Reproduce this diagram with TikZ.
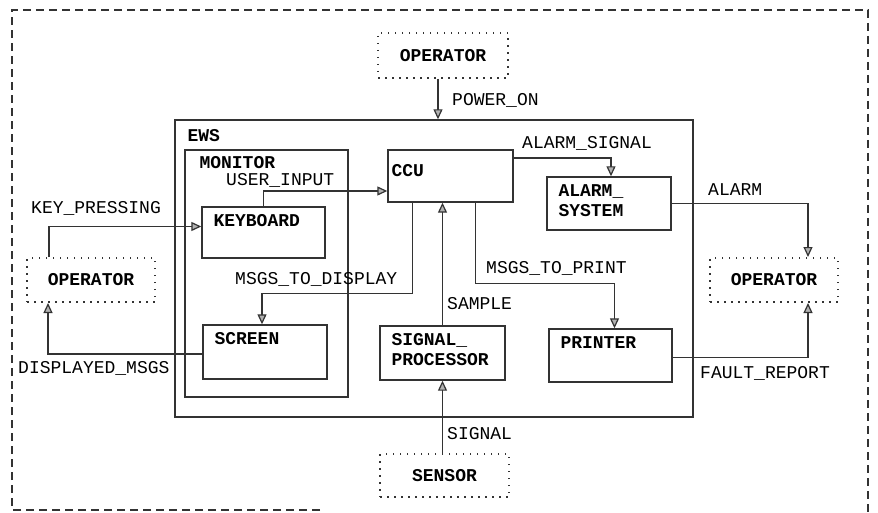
\documentclass[tikz,border=0pt]{standalone}
\usepackage{fontspec}
\setmonofont{Liberation Mono}
\usetikzlibrary{arrows.meta}
\newcommand{\boxfont}{\fontsize{18}{20}\selectfont\ttfamily\bfseries}
\newcommand{\flowfont}{\fontsize{18}{20}\selectfont\ttfamily}
\newcommand{\blk}[7][12,8]{% [label shift], x, y, width, height, name, label   (process box, label top left)
  \node[draw,line width=1.4pt,draw=black!80,minimum width=#4,minimum height=#5,inner sep=0] (#6) at (#2,#3) {};
  \node[font=\boxfont,anchor=north west,inner sep=0,align=left] at ([shift={(#1)}]#6.north west) {#7};}
\newcommand{\ext}[6]{% x, y, width, height, name, label   (external entity, dotted)
  \node[draw,line width=2pt,draw=black!80,dash pattern=on 1.5pt off 5.5pt,minimum width=#3,minimum height=#4,font=\boxfont] (#5) at (#1,#2) {#6};}

\begin{document}
\begin{tikzpicture}[x=1pt,y=-1pt,>={Triangle[length=10pt,width=9pt,fill=black!30]},
  flow/.style={->,line width=1.2pt,draw=black!80},
  flowlbl/.style={font=\flowfont,anchor=west,inner sep=0}]
  \useasboundingbox (0,0) rectangle (878,513);
  % environment boundary
  \draw[line width=1.4pt,draw=black!80,dash pattern=on 8pt off 5pt]
    (320,510) -- (12,510) -- (12,10) -- (868,10) -- (868,513);
  % system and its parts
  \blk[13,10]{434}{268.5}{518}{297}{ews}{EWS}
  \blk[15,7]{266.5}{273.5}{163}{247}{mon}{MONITOR}
  \blk[4,15]{450.5}{176}{125}{52}{ccu}{CCU}
  \blk{263.5}{232.5}{123}{51}{kbd}{KEYBOARD}
  \blk{265}{352}{124}{54}{scr}{SCREEN}
  \blk{442.5}{353}{125}{54}{sgp}{SIGNAL\_\\PROCESSOR}
  \blk{609}{203.5}{124}{53}{als}{ALARM\_\\SYSTEM}
  \blk{610.5}{355.5}{123}{53}{prn}{PRINTER}
  % external entities
  \ext{443}{55.5}{130}{45}{opT}{OPERATOR}
  \ext{91}{280}{128}{44}{opL}{OPERATOR}
  \ext{774}{280}{128}{44}{opR}{OPERATOR}
  \ext{444.5}{475.5}{129}{43}{sen}{SENSOR}
  % flows
  \draw[flow] ([xshift=-5]opT.south) -- ([xshift=-5]opT.south |- ews.north);
  \draw[flow] (kbd.north) |- ([yshift=-15]ccu.west);
  \draw[flow] ([xshift=-42]opL.north) |- ([yshift=6]kbd.west);
  \draw[flow] ([xshift=-38]ccu.south) -- ++(0,91) -| ([xshift=-3]scr.north);
  \draw[flow] ([yshift=-2]scr.west) -| ([xshift=-43]opL.south);
  \draw[flow] (sgp.north) -- (sgp.north |- ccu.south);
  \draw[flow] (sgp.south |- sen.north) -- (sgp.south);
  \draw[flow] ([yshift=18]ccu.east) -| ([xshift=2]als.north);
  \draw[flow] (als.east) -| ([xshift=34]opR.north);
  \draw[flow] ([xshift=25]ccu.south) -- ++(0,81) -| ([xshift=4]prn.north);
  \draw[flow] ([yshift=-2]prn.east) -| ([xshift=34]opR.south);
  % flow names
  \node[flowlbl] (lpow) at (452,100) {POWER\_ON};
  \node[flowlbl] (lals) at (522,143) {ALARM\_SIGNAL};
  \node[flowlbl] (lusr) at (226,180) {USER\_INPUT};
  \node[flowlbl] (lkey) at (31,208) {KEY\_PRESSING};
  \node[flowlbl] (lalm) at (708,190) {ALARM};
  \node[flowlbl] (ldsp) at (235,279) {MSGS\_TO\_DISPLAY};
  \node[flowlbl] (lprt) at (486,268) {MSGS\_TO\_PRINT};
  \node[flowlbl] (lsmp) at (447,304) {SAMPLE};
  \node[flowlbl] (ldmg) at (18,368) {DISPLAYED\_MSGS};
  \node[flowlbl] (lflt) at (700,373) {FAULT\_REPORT};
  \node[flowlbl] (lsig) at (447,434) {SIGNAL};
\end{tikzpicture}
\end{document}
